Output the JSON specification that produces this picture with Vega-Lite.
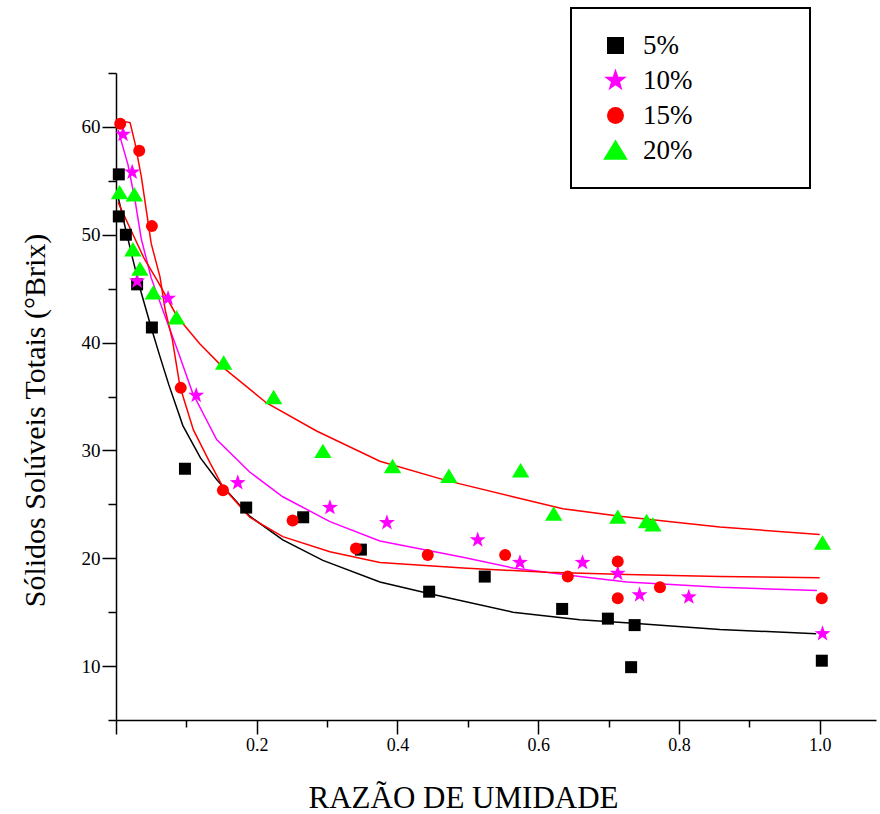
{
  "$schema": "https://vega.github.io/schema/vega-lite/v6.json",
  "width": 760,
  "height": 647,
  "autosize": {"type": "none"},
  "padding": {"left": 116, "top": 73, "right": 4, "bottom": 94},
  "background": "white",
  "config": {
    "view": {"stroke": null},
    "axis": {
      "domainColor": "black", "domainWidth": 1.5, "tickColor": "black", "tickWidth": 1.5,
      "labelFont": "Liberation Serif", "titleFont": "Liberation Serif", "labelColor": "black",
      "titleColor": "black", "titleFontWeight": "normal", "grid": false, "labelFontSize": 19
    },
    "legend": {
      "strokeColor": "black", "strokeWidth": 2, "fillColor": "white", "padding": 24,
      "labelFont": "Liberation Serif", "labelFontSize": 27, "labelColor": "black",
      "symbolSize": 289, "symbolOffset": 7, "labelOffset": 14, "rowPadding": 7, "symbolStrokeWidth": 0
    }
  },
  "datasets": {
    "points": [
      {"s": "5%", "x": 0.004, "y": 55.6}, {"s": "5%", "x": 0.004, "y": 51.7}, {"s": "5%", "x": 0.014, "y": 50.0},
      {"s": "5%", "x": 0.030, "y": 45.4}, {"s": "5%", "x": 0.051, "y": 41.4}, {"s": "5%", "x": 0.098, "y": 28.3},
      {"s": "5%", "x": 0.185, "y": 24.7}, {"s": "5%", "x": 0.266, "y": 23.8}, {"s": "5%", "x": 0.348, "y": 20.8},
      {"s": "5%", "x": 0.445, "y": 16.9}, {"s": "5%", "x": 0.524, "y": 18.3}, {"s": "5%", "x": 0.634, "y": 15.3},
      {"s": "5%", "x": 0.699, "y": 14.4}, {"s": "5%", "x": 0.737, "y": 13.8}, {"s": "5%", "x": 0.732, "y": 9.9},
      {"s": "5%", "x": 1.003, "y": 10.5},
      {"s": "10%", "x": 0.010, "y": 59.3}, {"s": "10%", "x": 0.023, "y": 55.8}, {"s": "10%", "x": 0.030, "y": 45.7},
      {"s": "10%", "x": 0.074, "y": 44.1}, {"s": "10%", "x": 0.114, "y": 35.1}, {"s": "10%", "x": 0.173, "y": 27.0},
      {"s": "10%", "x": 0.304, "y": 24.7}, {"s": "10%", "x": 0.385, "y": 23.3}, {"s": "10%", "x": 0.514, "y": 21.7},
      {"s": "10%", "x": 0.574, "y": 19.6}, {"s": "10%", "x": 0.663, "y": 19.6}, {"s": "10%", "x": 0.713, "y": 18.6},
      {"s": "10%", "x": 0.744, "y": 16.6}, {"s": "10%", "x": 0.814, "y": 16.4}, {"s": "10%", "x": 1.004, "y": 13.0},
      {"s": "15%", "x": 0.006, "y": 60.3}, {"s": "15%", "x": 0.033, "y": 57.8}, {"s": "15%", "x": 0.051, "y": 50.8},
      {"s": "15%", "x": 0.092, "y": 35.8}, {"s": "15%", "x": 0.152, "y": 26.3}, {"s": "15%", "x": 0.251, "y": 23.5},
      {"s": "15%", "x": 0.341, "y": 20.9}, {"s": "15%", "x": 0.443, "y": 20.3}, {"s": "15%", "x": 0.553, "y": 20.3},
      {"s": "15%", "x": 0.642, "y": 18.3}, {"s": "15%", "x": 0.713, "y": 19.7}, {"s": "15%", "x": 0.713, "y": 16.3},
      {"s": "15%", "x": 0.773, "y": 17.3}, {"s": "15%", "x": 1.003, "y": 16.3},
      {"s": "20%", "x": 0.005, "y": 53.9}, {"s": "20%", "x": 0.026, "y": 53.7}, {"s": "20%", "x": 0.024, "y": 48.6},
      {"s": "20%", "x": 0.034, "y": 46.8}, {"s": "20%", "x": 0.053, "y": 44.6}, {"s": "20%", "x": 0.086, "y": 42.3},
      {"s": "20%", "x": 0.153, "y": 38.1}, {"s": "20%", "x": 0.224, "y": 34.9}, {"s": "20%", "x": 0.294, "y": 29.9},
      {"s": "20%", "x": 0.393, "y": 28.5}, {"s": "20%", "x": 0.473, "y": 27.6}, {"s": "20%", "x": 0.575, "y": 28.1},
      {"s": "20%", "x": 0.622, "y": 24.1}, {"s": "20%", "x": 0.713, "y": 23.8}, {"s": "20%", "x": 0.754, "y": 23.4},
      {"s": "20%", "x": 0.763, "y": 23.1}, {"s": "20%", "x": 1.004, "y": 21.4}
    ],
    "curves": [
      {"curve": "5%", "x": 0.003, "y": 53.5}, {"curve": "5%", "x": 0.013, "y": 50.7}, {"curve": "5%", "x": 0.024, "y": 47.7},
      {"curve": "5%", "x": 0.036, "y": 44.6}, {"curve": "5%", "x": 0.05, "y": 41.4}, {"curve": "5%", "x": 0.0625, "y": 38.7},
      {"curve": "5%", "x": 0.075, "y": 36.1}, {"curve": "5%", "x": 0.095, "y": 32.3}, {"curve": "5%", "x": 0.12, "y": 29.3},
      {"curve": "5%", "x": 0.143, "y": 27.3}, {"curve": "5%", "x": 0.19, "y": 23.9}, {"curve": "5%", "x": 0.237, "y": 21.7},
      {"curve": "5%", "x": 0.294, "y": 19.8}, {"curve": "5%", "x": 0.375, "y": 17.8}, {"curve": "5%", "x": 0.446, "y": 16.7},
      {"curve": "5%", "x": 0.564, "y": 15.0}, {"curve": "5%", "x": 0.659, "y": 14.3}, {"curve": "5%", "x": 0.73, "y": 14.0},
      {"curve": "5%", "x": 0.858, "y": 13.4}, {"curve": "5%", "x": 0.995, "y": 13.0},
      {"curve": "10%", "x": 0.003, "y": 59.7}, {"curve": "10%", "x": 0.017, "y": 56.5}, {"curve": "10%", "x": 0.027, "y": 53.2},
      {"curve": "10%", "x": 0.036, "y": 49.6}, {"curve": "10%", "x": 0.05, "y": 46.0}, {"curve": "10%", "x": 0.07, "y": 42.4},
      {"curve": "10%", "x": 0.088, "y": 39.2}, {"curve": "10%", "x": 0.109, "y": 35.3}, {"curve": "10%", "x": 0.143, "y": 31.0},
      {"curve": "10%", "x": 0.19, "y": 28.0}, {"curve": "10%", "x": 0.237, "y": 25.7}, {"curve": "10%", "x": 0.304, "y": 23.4},
      {"curve": "10%", "x": 0.375, "y": 21.6}, {"curve": "10%", "x": 0.493, "y": 20.1}, {"curve": "10%", "x": 0.564, "y": 19.1},
      {"curve": "10%", "x": 0.659, "y": 18.3}, {"curve": "10%", "x": 0.726, "y": 17.8}, {"curve": "10%", "x": 0.858, "y": 17.3},
      {"curve": "10%", "x": 0.996, "y": 17.0},
      {"curve": "15%", "x": 0.003, "y": 60.6}, {"curve": "15%", "x": 0.02, "y": 60.4}, {"curve": "15%", "x": 0.027, "y": 58.5},
      {"curve": "15%", "x": 0.036, "y": 55.4}, {"curve": "15%", "x": 0.043, "y": 52.3}, {"curve": "15%", "x": 0.05, "y": 49.2},
      {"curve": "15%", "x": 0.0625, "y": 46.1}, {"curve": "15%", "x": 0.07, "y": 43.0}, {"curve": "15%", "x": 0.08, "y": 40.3},
      {"curve": "15%", "x": 0.091, "y": 35.9}, {"curve": "15%", "x": 0.11, "y": 31.9}, {"curve": "15%", "x": 0.134, "y": 28.8},
      {"curve": "15%", "x": 0.152, "y": 26.6}, {"curve": "15%", "x": 0.19, "y": 23.8}, {"curve": "15%", "x": 0.237, "y": 22.0},
      {"curve": "15%", "x": 0.304, "y": 20.6}, {"curve": "15%", "x": 0.375, "y": 19.6}, {"curve": "15%", "x": 0.493, "y": 19.1},
      {"curve": "15%", "x": 0.612, "y": 18.7}, {"curve": "15%", "x": 0.726, "y": 18.5}, {"curve": "15%", "x": 0.858, "y": 18.3},
      {"curve": "15%", "x": 1.0, "y": 18.2},
      {"curve": "20%", "x": 0.003, "y": 53.0}, {"curve": "20%", "x": 0.02, "y": 50.6}, {"curve": "20%", "x": 0.04, "y": 47.8},
      {"curve": "20%", "x": 0.06, "y": 45.6}, {"curve": "20%", "x": 0.087, "y": 42.4}, {"curve": "20%", "x": 0.119, "y": 39.9},
      {"curve": "20%", "x": 0.152, "y": 37.7}, {"curve": "20%", "x": 0.214, "y": 34.4}, {"curve": "20%", "x": 0.285, "y": 31.8},
      {"curve": "20%", "x": 0.375, "y": 29.0}, {"curve": "20%", "x": 0.47, "y": 27.2}, {"curve": "20%", "x": 0.564, "y": 25.7},
      {"curve": "20%", "x": 0.635, "y": 24.6}, {"curve": "20%", "x": 0.716, "y": 23.9}, {"curve": "20%", "x": 0.858, "y": 22.9},
      {"curve": "20%", "x": 1.0, "y": 22.2}
    ]
  },
  "layer": [
    {
      "data": {"name": "curves"},
      "mark": {"type": "line", "strokeWidth": 1.5, "interpolate": "linear"},
      "encoding": {
        "x": {
          "field": "x", "type": "quantitative",
          "scale": {"domain": [0, 1.08], "nice": false, "zero": false},
          "axis": {
            "values": [0, 0.1, 0.2, 0.3, 0.4, 0.5, 0.6, 0.7, 0.8, 0.9, 1.0],
            "labelExpr": "(round(datum.value*10) % 2 == 1 || datum.value == 0) ? '' : format(datum.value, '.1f')",
            "tickSize": {"condition": {"test": "round(datum.value*10) % 2 == 0", "value": 14}, "value": 7},
            "labelPadding": 2, "labelFontSize": 18,
            "title": "RAZÃO DE UMIDADE", "titleFontSize": 31,
            "titleX": 347, "titleY": 87, "titleAlign": "center", "titleBaseline": "alphabetic"
          }
        },
        "y": {
          "field": "y", "type": "quantitative",
          "scale": {"domain": [5, 65], "nice": false, "zero": false},
          "axis": {
            "values": [5, 10, 15, 20, 25, 30, 35, 40, 45, 50, 55, 60, 65],
            "labelExpr": "datum.value % 10 == 0 ? datum.label : ''",
            "tickSize": {"condition": {"test": "datum.value % 10 == 0", "value": 14}, "value": 8},
            "labelPadding": 2, "labelFontSize": 19,
            "title": "Sólidos Solúveis Totais (°Brix)", "titleFontSize": 30,
            "titleX": -81, "titleY": 347, "titleAlign": "center", "titleBaseline": "middle", "titleAngle": 270
          }
        },
        "stroke": {
          "field": "curve", "type": "nominal",
          "scale": {"domain": ["5%", "10%", "15%", "20%"], "range": ["#000000", "#ff00ff", "#ff0000", "#ff0000"]},
          "legend": null
        }
      }
    },
    {
      "data": {"name": "points"},
      "mark": {"type": "point", "filled": true, "opacity": 1, "size": 144},
      "encoding": {
        "x": {"field": "x", "type": "quantitative"},
        "y": {"field": "y", "type": "quantitative"},
        "color": {
          "field": "s", "type": "nominal",
          "scale": {"domain": ["5%", "10%", "15%", "20%"], "range": ["#000000", "#ff00ff", "#ff0000", "#00ff00"]},
          "legend": {
            "orient": "none", "legendX": 455, "legendY": -65, "title": null,
            "labelExpr": "datum.label + '\u00a0\u00a0\u2800\u2800\u2800\u2800'"
          }
        },
        "shape": {
          "field": "s", "type": "nominal",
          "scale": {
            "domain": ["5%", "10%", "15%", "20%"],
            "range": [
              "square",
              "M0,-1.4L0.329,-0.453L1.331,-0.433L0.533,0.173L0.823,1.133L0,0.56L-0.823,1.133L-0.533,0.173L-1.331,-0.433L-0.329,-0.453Z",
              "circle",
              "M0,-1.3L1.45,1.1L-1.45,1.1Z"
            ]
          },
          "legend": {
            "orient": "none", "legendX": 455, "legendY": -65, "title": null,
            "labelExpr": "datum.label + '\u00a0\u00a0\u2800\u2800\u2800\u2800'"
          }
        }
      }
    }
  ],
  "resolve": {"legend": {"color": "independent", "shape": "independent"}}
}
